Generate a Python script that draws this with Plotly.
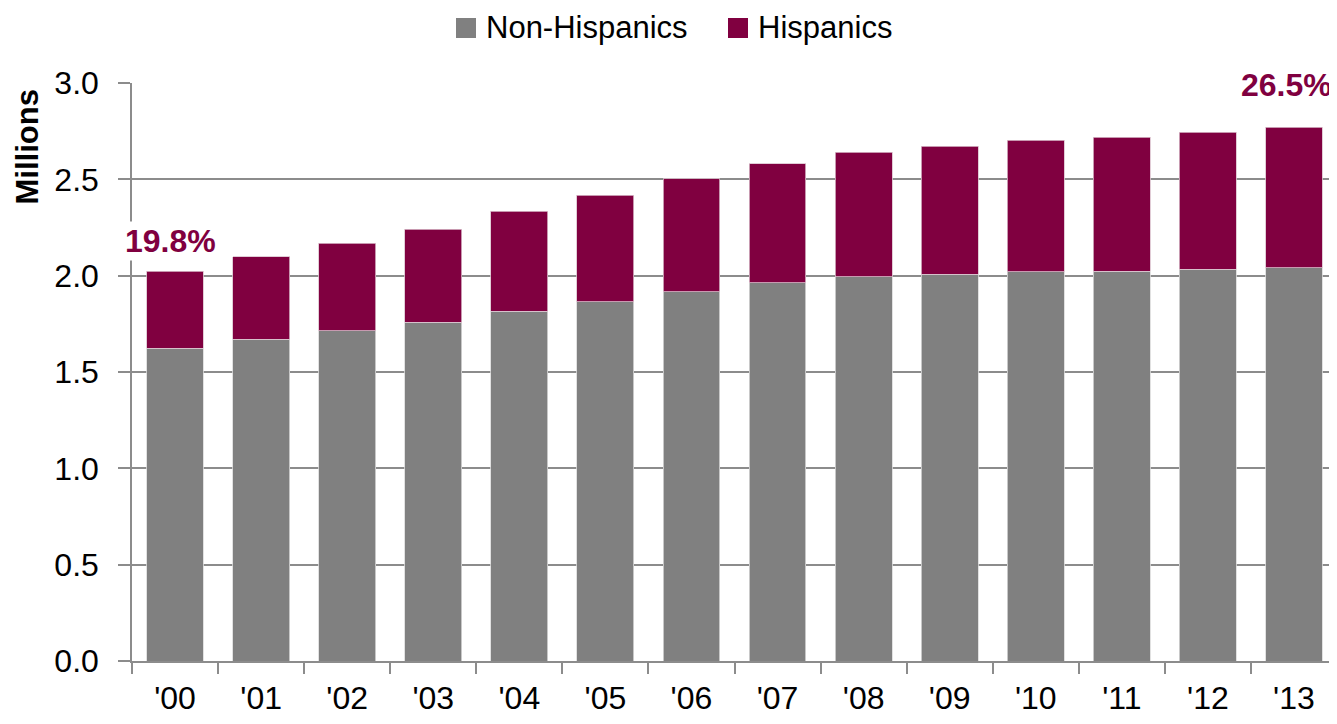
import plotly.graph_objects as go

years = ["'00", "'01", "'02", "'03", "'04", "'05", "'06", "'07", "'08", "'09", "'10", "'11", "'12", "'13"]
non_hispanics = [1.623, 1.670, 1.713, 1.758, 1.815, 1.865, 1.917, 1.962, 1.995, 2.008, 2.021, 2.024, 2.033, 2.040]
hispanics = [0.399, 0.429, 0.455, 0.482, 0.520, 0.552, 0.586, 0.619, 0.645, 0.665, 0.681, 0.694, 0.712, 0.731]
series_names = ["Non-Hispanics", "Hispanics"]
share_labels = ["19.8%", "26.5%"]

GRAY = "#808080"
MAROON = "#800040"
AXIS = "#8c8c8c"
FONT = "Liberation Sans Narrow, Arial Narrow, Liberation Sans, Arial, sans-serif"

# plot-area geometry (screen px) used to place the legend in paper coords
PL, PW, PB, PH = 132, 1205, 661, 578


def px_x(px):
    return (px - PL) / PW


def px_y(py):
    return (PB - py) / PH


fig = go.Figure()
fig.add_trace(go.Bar(x=years, y=non_hispanics, name=series_names[0], showlegend=False,
                     marker=dict(color=GRAY, line=dict(color="#d9d9d9", width=0.8))))
fig.add_trace(go.Bar(x=years, y=hispanics, name=series_names[1], showlegend=False,
                     marker=dict(color=MAROON, line=dict(color="#d9bfcc", width=0.8))))

totals = [a + b for a, b in zip(non_hispanics, hispanics)]

fig.add_annotation(x=years[0], y=totals[0], text="<b>" + share_labels[0] + "</b>",
                   showarrow=False, yanchor="middle", yshift=30, xshift=-5,
                   font=dict(family=FONT, size=32, color=MAROON), bgcolor="white")
fig.add_annotation(x=years[-1], y=3.0, text="<b>" + share_labels[1] + "</b>",
                   showarrow=False, yanchor="middle", xanchor="right", xshift=40, yshift=-2,
                   font=dict(family=FONT, size=32, color=MAROON), bgcolor="white")

fig.add_annotation(xref="paper", yref="paper", x=px_x(27), y=px_y(88),
                   text="<b>Millions</b>", textangle=-90, showarrow=False,
                   xanchor="center", yanchor="top",
                   font=dict(family=FONT, size=31, color="black"))

# manual legend (swatch + label)
LEG_Y = 28
legend_items = [(series_names[0], GRAY, 456), (series_names[1], MAROON, 728)]
for name, col, sx in legend_items:
    fig.add_shape(type="rect", xref="paper", yref="paper",
                  x0=px_x(sx), x1=px_x(sx + 20), y0=px_y(LEG_Y + 10), y1=px_y(LEG_Y - 10),
                  fillcolor=col, line=dict(width=0))
    fig.add_annotation(xref="paper", yref="paper", x=px_x(sx + 28), y=px_y(LEG_Y),
                       text=name, showarrow=False, xanchor="left", yanchor="middle",
                       font=dict(family=FONT, size=31, color="black"))

fig.update_layout(
    width=1329, height=716,
    barmode="stack", bargap=0.34,
    plot_bgcolor="white", paper_bgcolor="white",
    margin=dict(l=124, r=0, t=75, b=63, autoexpand=False),
    font=dict(family=FONT, size=32, color="black"),
    showlegend=False,
    xaxis=dict(type="category", range=[-0.5, len(years) - 0.5], autorange=False,
               showline=True, linecolor=AXIS, linewidth=1.5, automargin=False,
               ticks="outside", tickson="boundaries", ticklen=11, tickcolor=AXIS, tickwidth=1.5,
               ticklabelstandoff=8,
               tickfont=dict(family=FONT, size=32, color="black"), showgrid=False),
    yaxis=dict(range=[0, 3.0], autorange=False, dtick=0.5, tickformat=".1f", showgrid=True,
               gridcolor=AXIS, gridwidth=1.5,
               showline=True, linecolor=AXIS, linewidth=1.5, ticks="outside", ticklen=12, automargin=False,
               tickcolor=AXIS, tickwidth=1.5, zeroline=False,
               tickfont=dict(family=FONT, size=32, color="black"), ticklabelstandoff=13),
)

fig.write_html("out.html")
